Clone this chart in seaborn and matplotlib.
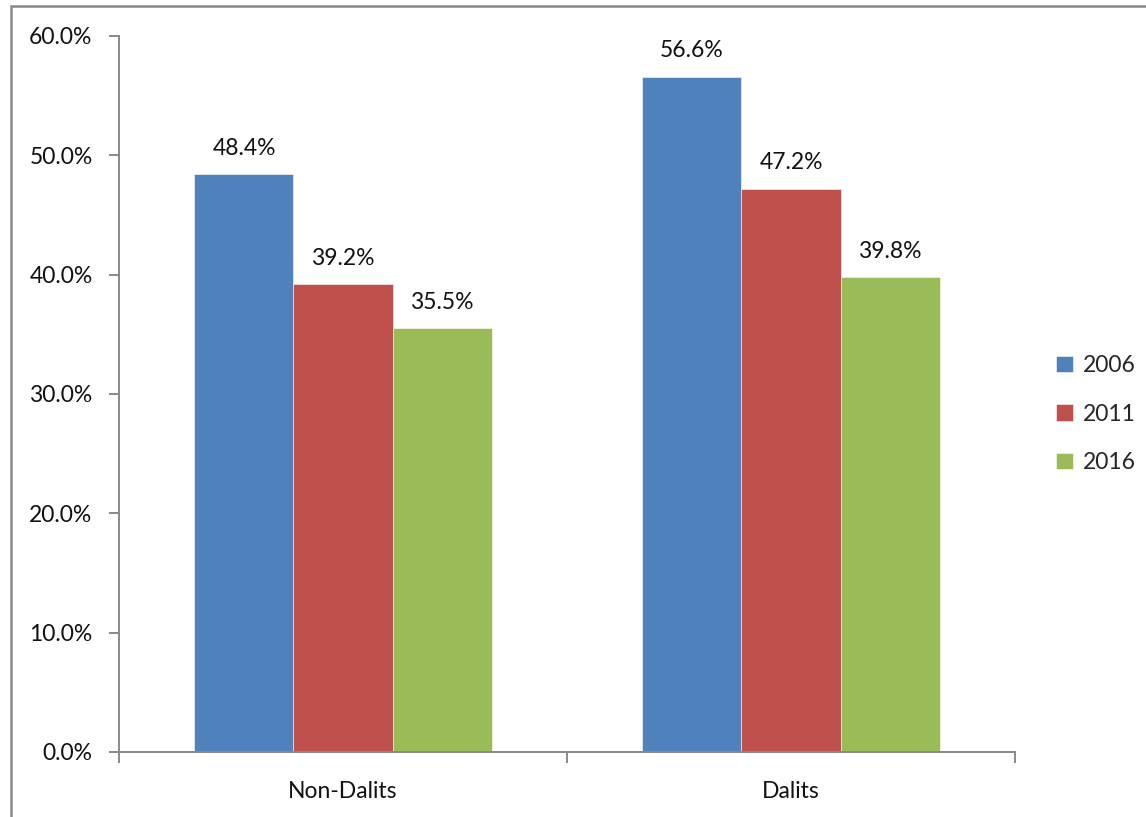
import matplotlib
matplotlib.use("Agg")
import matplotlib.pyplot as plt
import seaborn as sns
import pandas as pd
from matplotlib.patches import Rectangle
from matplotlib.ticker import FixedLocator, PercentFormatter

categories = ["Non-Dalits", "Dalits"]
years = ["2006", "2011", "2016"]
values_2006 = [48.4, 56.6]
values_2011 = [39.2, 47.2]
values_2016 = [35.5, 39.8]
colors = ["#4F81BD", "#C0504D", "#9BBB59"]

rows = []
for year, vals in zip(years, [values_2006, values_2011, values_2016]):
    for cat, v in zip(categories, vals):
        rows.append({"group": cat, "year": year, "value": v})
df = pd.DataFrame(rows)

sns.set_theme(style="white")
plt.rcParams["font.family"] = ["Lato", "DejaVu Sans"]
FS = 16.5
plt.rcParams["font.size"] = FS

fig = plt.figure(figsize=(11.46, 8.17), dpi=100)
ax = fig.add_axes([119 / 1146, 1 - 752 / 817, (1015 - 119) / 1146, (752 - 36) / 817])

sns.barplot(data=df, x="group", y="value", hue="year", order=categories,
            hue_order=years, palette=colors, width=0.663, gap=0,
            saturation=1, errorbar=None, ax=ax, edgecolor="white", linewidth=0.4)

for container in ax.containers:
    ax.bar_label(container, labels=[f"{v:.1f}%" for v in container.datavalues],
                 padding=11, fontsize=FS, color="#111111")

ax.set_xlim(-0.5, 1.5)
ax.set_ylim(0, 60)
ax.set_yticks(range(0, 61, 10))
ax.yaxis.set_major_formatter(PercentFormatter(decimals=1))
ax.set_xlabel("")
ax.set_ylabel("")

spine_color = "#898989"
for side in ["top", "right"]:
    ax.spines[side].set_visible(False)
for side in ["left", "bottom"]:
    ax.spines[side].set_color(spine_color)
    ax.spines[side].set_linewidth(1.4)

ax.tick_params(axis="y", which="major", left=True, length=7, width=1.4,
               color=spine_color, pad=12, labelsize=FS, labelcolor="#111111")
ax.tick_params(axis="x", which="major", bottom=False, length=0, pad=21,
               labelsize=FS, labelcolor="#111111")
ax.xaxis.set_minor_locator(FixedLocator([-0.5, 0.5, 1.5]))
ax.tick_params(axis="x", which="minor", bottom=True, length=8, width=1.4,
               color=spine_color, direction="out")

handles, labels = ax.get_legend_handles_labels()
ax.legend(handles, labels, loc="center left", bbox_to_anchor=(1.033, 0.472),
          frameon=False, fontsize=FS, handlelength=0.75, handleheight=0.75,
          handletextpad=0.4, labelspacing=1.2, borderpad=0)

# outer chart frame
fig.add_artist(Rectangle((11 / 1146, -0.05), 1.2, 1 - 6 / 817 + 0.05,
                         transform=fig.transFigure, fill=False,
                         edgecolor=spine_color, linewidth=1.8))

fig.savefig("out.png", dpi=100, facecolor="white")
